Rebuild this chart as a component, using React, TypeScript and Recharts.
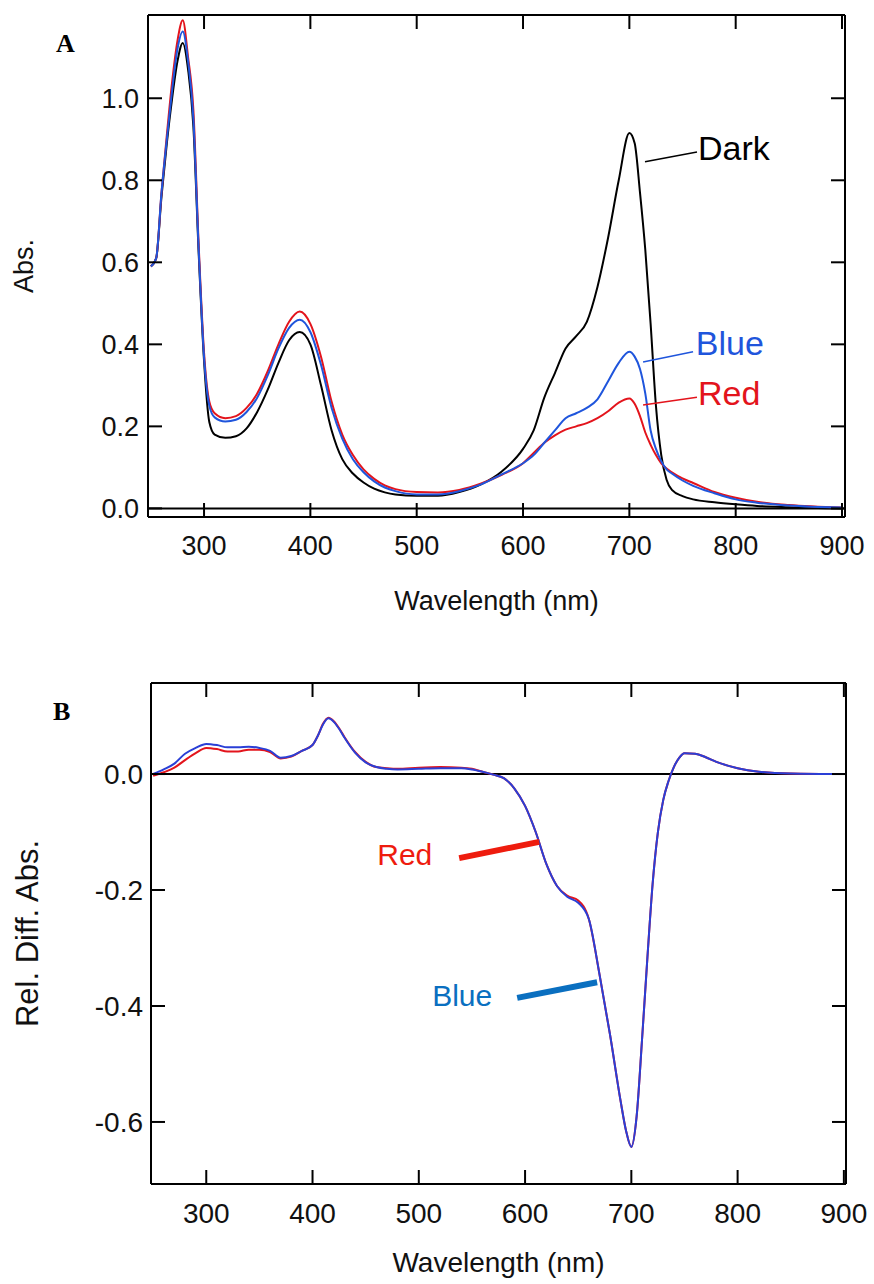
import React from "react";
import { LineChart, Line, XAxis, YAxis, ReferenceLine, ReferenceDot } from "recharts";

// wavelength grid and absorbance spectra (panel A)
const wavelengthsA = [
  250, 255, 260, 265, 270, 275, 280, 285, 290, 295,
  300, 305, 310, 320, 330, 340, 350, 360, 370, 380,
  390, 400, 410, 420, 430, 440, 450, 460, 470, 480,
  500, 520, 540, 560, 580, 600, 610, 620, 630, 640,
  650, 660, 670, 680, 690, 700, 705, 710, 715, 720,
  725, 730, 735, 740, 750, 760, 780, 800, 820, 850,
  900,
];
const darkA = [
  0.59, 0.61, 0.76, 0.89, 1.0, 1.09, 1.135, 1.07, 0.93, 0.62,
  0.36, 0.21, 0.18, 0.172, 0.176, 0.195, 0.235, 0.29, 0.355, 0.41,
  0.43, 0.4, 0.3, 0.19, 0.12, 0.085, 0.063, 0.048, 0.039, 0.034,
  0.031, 0.031, 0.04, 0.058, 0.09, 0.145, 0.19, 0.27, 0.33, 0.39,
  0.42, 0.455, 0.54, 0.66, 0.8, 0.915, 0.89, 0.77, 0.63, 0.45,
  0.25, 0.13, 0.07, 0.045, 0.03, 0.022, 0.015, 0.01, 0.006, 0.003,
  0.0,
];
const blueA = [
  0.59, 0.61, 0.77, 0.9, 1.02, 1.12, 1.163, 1.09, 0.95, 0.63,
  0.37, 0.25, 0.222, 0.212, 0.216, 0.235, 0.27, 0.325, 0.39, 0.44,
  0.46, 0.43, 0.35, 0.245, 0.17, 0.12, 0.088, 0.066, 0.051, 0.042,
  0.034, 0.034, 0.042, 0.058, 0.083, 0.11, 0.13, 0.16, 0.19, 0.22,
  0.232, 0.245, 0.266, 0.31, 0.355, 0.382, 0.37, 0.34, 0.28, 0.19,
  0.145, 0.115, 0.095, 0.085, 0.068, 0.055, 0.037, 0.022, 0.014, 0.007,
  0.002,
];
const redA = [
  0.59, 0.61, 0.77, 0.91, 1.04, 1.14, 1.19, 1.1, 0.97, 0.64,
  0.38, 0.26, 0.232, 0.22, 0.225, 0.245, 0.28, 0.335, 0.4, 0.455,
  0.48, 0.45, 0.37, 0.26, 0.18, 0.13, 0.095, 0.072, 0.056, 0.047,
  0.04, 0.039, 0.045, 0.06, 0.082, 0.11, 0.135, 0.16, 0.178, 0.192,
  0.2, 0.208, 0.22, 0.237, 0.258, 0.268, 0.255, 0.225, 0.185, 0.155,
  0.13, 0.11, 0.097, 0.088, 0.073, 0.062, 0.04, 0.026, 0.016, 0.008,
  0.002,
];

// relative difference spectra (panel B)
const wavelengthsB = [
  250, 260, 270, 280, 290, 300, 310, 320, 330, 340,
  350, 360, 370, 380, 390, 400, 405, 410, 415, 420,
  425, 430, 440, 450, 460, 470, 480, 500, 520, 540,
  550, 560, 570, 580, 590, 600, 610, 620, 630, 640,
  650, 660, 670, 680, 690, 695, 700, 705, 710, 715,
  720, 725, 730, 735, 740, 745, 750, 760, 770, 780,
  800, 820, 850, 900,
];
const redB = [
  -0.003, 0.003, 0.011, 0.024, 0.036, 0.045, 0.043, 0.039, 0.039, 0.042,
  0.042, 0.038, 0.027, 0.03, 0.04, 0.05, 0.066, 0.087, 0.097, 0.091,
  0.079, 0.064, 0.038, 0.021, 0.012, 0.01, 0.009, 0.011, 0.012, 0.011,
  0.009, 0.004, -0.001, -0.007, -0.025, -0.055, -0.1, -0.155, -0.193, -0.21,
  -0.218, -0.25, -0.345, -0.45, -0.565, -0.615, -0.643, -0.59, -0.46, -0.32,
  -0.19, -0.1, -0.045, -0.012, 0.012, 0.028, 0.036, 0.035, 0.029, 0.021,
  0.01, 0.004, 0.001, 0.0,
];
const blueB = [
  0.0, 0.008, 0.018, 0.035, 0.045, 0.052, 0.05, 0.046, 0.046, 0.047,
  0.045, 0.04, 0.028, 0.031, 0.04, 0.05, 0.066, 0.086, 0.096, 0.09,
  0.078, 0.063, 0.037, 0.02, 0.012, 0.009, 0.008, 0.009, 0.01, 0.01,
  0.008, 0.004, -0.001, -0.007, -0.025, -0.055, -0.1, -0.155, -0.193, -0.212,
  -0.222, -0.25, -0.345, -0.45, -0.565, -0.615, -0.643, -0.59, -0.46, -0.32,
  -0.19, -0.1, -0.045, -0.012, 0.012, 0.028, 0.036, 0.035, 0.029, 0.021,
  0.01, 0.004, 0.001, 0.0,
];

const xTicks = [300, 400, 500, 600, 700, 800, 900];
const yTicksA = [0, 0.2, 0.4, 0.6, 0.8, 1.0];
const yTicksB = [-0.6, -0.4, -0.2, 0];

const dataA = wavelengthsA.map((wl, i) => ({ wl, dark: darkA[i], blue: blueA[i], red: redA[i] }));
const dataB = wavelengthsB.map((wl, i) => ({ wl, red: redB[i], blue: blueB[i] }));

const FONT = "'Liberation Sans', Arial, sans-serif";
const axisLine = { stroke: "#000", strokeWidth: 2 };

const yTitle = (text: string, cx: number, size: number) => (props: any) => {
  const vb = props.viewBox || {};
  const cy = vb.y + vb.height / 2;
  return (
    <text
      x={cx}
      y={cy}
      transform={`rotate(-90 ${cx} ${cy})`}
      textAnchor="middle"
      dominantBaseline="central"
      fontSize={size}
      fontFamily={FONT}
      fill="#111"
    >
      {text}
    </text>
  );
};

const note = (value: string, color: string, size: number) => ({
  value,
  position: "right" as const,
  offset: 0,
  fill: color,
  fontSize: size,
  fontFamily: FONT,
});

// tick renderer that draws no label, so only the tick line shows
const noLabel = () => <g />;

// inward tick marks on all four sides, drawn by mirrored axes without labels
const innerTicks = (xDomain: number[], yDomain: number[], yTicks: number[]) => [
  <XAxis key="tb" xAxisId="inB" dataKey="wl" type="number" domain={xDomain} ticks={xTicks} allowDataOverflow
    mirror height={14} axisLine={false} tickLine={axisLine} tickSize={14} tick={noLabel} />,
  <XAxis key="tt" xAxisId="inT" orientation="top" dataKey="wl" type="number" domain={xDomain} ticks={xTicks} allowDataOverflow
    mirror height={14} axisLine={axisLine} tickLine={axisLine} tickSize={14} tick={noLabel} />,
  <YAxis key="yl" yAxisId="inL" type="number" domain={yDomain} ticks={yTicks} allowDataOverflow
    mirror width={14} axisLine={false} tickLine={axisLine} tickSize={14} tick={noLabel} />,
  <YAxis key="yr" yAxisId="inR" orientation="right" type="number" domain={yDomain} ticks={yTicks} allowDataOverflow
    mirror width={14} axisLine={axisLine} tickLine={axisLine} tickSize={14} tick={noLabel} />,
];

const domainXA = [247.3, 902.8];
const domainYA = [-0.021, 1.203];
const domainXB = [248, 902];
const domainYB = [-0.707, 0.157];

const PanelA = () => (
  <LineChart width={874} height={640} data={dataA} margin={{ top: 15, right: 29, left: 0, bottom: 0 }}>
    <XAxis
      dataKey="wl"
      type="number"
      domain={domainXA}
      ticks={xTicks}
      allowDataOverflow
      height={123}
      axisLine={axisLine}
      tickLine={false}
      tickSize={0}
      tickMargin={19}
      tick={{ fill: "#111", fontSize: 27, fontFamily: FONT }}
      label={{ value: "Wavelength (nm)", position: "insideBottom", offset: 30, fontSize: 27, fontFamily: FONT, fill: "#111" }}
    />
    <YAxis
      type="number"
      domain={domainYA}
      ticks={yTicksA}
      allowDataOverflow
      width={148}
      axisLine={axisLine}
      tickLine={false}
      tickSize={0}
      tickMargin={9}
      tickFormatter={(v: number) => v.toFixed(1)}
      tick={{ fill: "#111", fontSize: 27, fontFamily: FONT }}
      label={{ content: yTitle("Abs.", 24, 27) }}
    />
    {innerTicks(domainXA, domainYA, yTicksA)}
    <ReferenceLine y={0} stroke="#000" strokeWidth={2} />
    <Line dataKey="dark" type="monotone" stroke="#000" strokeWidth={2} dot={false} isAnimationActive={false} />
    <Line dataKey="red" type="monotone" stroke="#e3141c" strokeWidth={2} dot={false} isAnimationActive={false} />
    <Line dataKey="blue" type="monotone" stroke="#1f55dc" strokeWidth={2} dot={false} isAnimationActive={false} />
    <ReferenceLine segment={[{ x: 714.7, y: 0.845 }, { x: 763.6, y: 0.869 }]} stroke="#000" strokeWidth={1.5} />
    <ReferenceLine segment={[{ x: 712.9, y: 0.357 }, { x: 759.9, y: 0.382 }]} stroke="#1f55dc" strokeWidth={1.5} />
    <ReferenceLine segment={[{ x: 712.9, y: 0.252 }, { x: 763.6, y: 0.271 }]} stroke="#e3141c" strokeWidth={1.5} />
    <ReferenceDot x={764.5} y={0.878} r={0} stroke="none" fill="none" label={note("Dark", "#000", 34)} />
    <ReferenceDot x={762.5} y={0.404} r={0} stroke="none" fill="none" label={note("Blue", "#1f55dc", 34)} />
    <ReferenceDot x={764.5} y={0.282} r={0} stroke="none" fill="none" label={note("Red", "#e3141c", 34)} />
  </LineChart>
);

const PanelB = () => (
  <LineChart width={874} height={644} data={dataB} margin={{ top: 43, right: 28, left: 0, bottom: 0 }}>
    <XAxis
      dataKey="wl"
      type="number"
      domain={domainXB}
      ticks={xTicks}
      allowDataOverflow
      height={100}
      axisLine={axisLine}
      tickLine={false}
      tickSize={0}
      tickMargin={19}
      tick={{ fill: "#111", fontSize: 28, fontFamily: FONT }}
      label={{ value: "Wavelength (nm)", position: "insideBottom", offset: 12, fontSize: 28, fontFamily: FONT, fill: "#111" }}
    />
    <YAxis
      type="number"
      domain={domainYB}
      ticks={yTicksB}
      allowDataOverflow
      width={151}
      axisLine={axisLine}
      tickLine={false}
      tickSize={0}
      tickMargin={8}
      tickFormatter={(v: number) => v.toFixed(1)}
      tick={{ fill: "#111", fontSize: 28, fontFamily: FONT }}
      label={{ content: yTitle("Rel. Diff. Abs.", 27, 31) }}
    />
    {innerTicks(domainXB, domainYB, yTicksB)}
    <ReferenceLine y={0} stroke="#000" strokeWidth={2} />
    <Line dataKey="red" type="monotone" stroke="#e3141c" strokeWidth={2} dot={false} isAnimationActive={false} />
    <Line dataKey="blue" type="monotone" stroke="#2a3fd6" strokeWidth={2} dot={false} isAnimationActive={false} />
    <ReferenceLine segment={[{ x: 538, y: -0.145 }, { x: 613.3, y: -0.117 }]} stroke="#ee1c0e" strokeWidth={6} />
    <ReferenceLine segment={[{ x: 592.6, y: -0.386 }, { x: 667.8, y: -0.359 }]} stroke="#0a6fc0" strokeWidth={6} />
    <ReferenceDot x={460.9} y={-0.138} r={0} stroke="none" fill="none" label={note("Red", "#ee1c0e", 30)} />
    <ReferenceDot x={512.6} y={-0.381} r={0} stroke="none" fill="none" label={note("Blue", "#0a6fc0", 30)} />
  </LineChart>
);

const letter = { position: "absolute" as const, fontFamily: "'Liberation Serif', 'Times New Roman', serif", fontWeight: 700, fontSize: 26, lineHeight: 1 };

export default function App() {
  return (
    <div style={{ position: "absolute", left: 0, top: 0, width: 874, height: 1284, background: "#fff" }}>
      <div style={{ position: "absolute", left: 0, top: 0 }}>
        <PanelA />
      </div>
      <div style={{ position: "absolute", left: 0, top: 640 }}>
        <PanelB />
      </div>
      <div style={{ ...letter, left: 56, top: 31 }}>A</div>
      <div style={{ ...letter, left: 53, top: 699 }}>B</div>
    </div>
  );
}
